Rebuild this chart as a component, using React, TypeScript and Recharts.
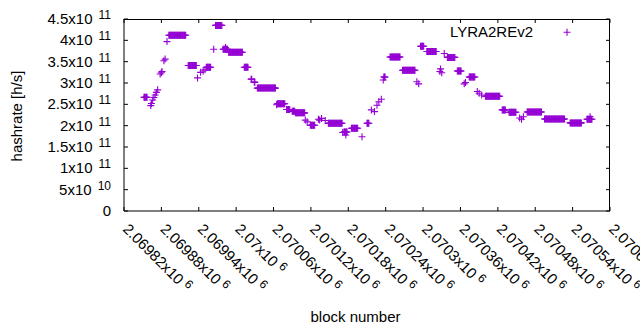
import React from "react";
import { ScatterChart, Scatter, XAxis, YAxis, Legend } from "recharts";

// runs of consecutive blocks that report the same hashrate
const runStart = [
  2069852, 2069892, 2069923, 2069952, 2069967, 2069979, 2069988, 2070013, 2070034, 2070066, 2070081,
  2070090, 2070095, 2070119, 2070148, 2070173, 2070185, 2070210, 2070237, 2070247, 2070267, 2070296,
  2070306, 2070339, 2070355, 2070374, 2070400, 2070427, 2070438, 2070467, 2070495, 2070536, 2070563,
];
const runEnd = [
  2069857, 2069919, 2069936, 2069959, 2069977, 2069986, 2070010, 2070019, 2070063, 2070078, 2070086,
  2070094, 2070110, 2070126, 2070170, 2070178, 2070195, 2070213, 2070239, 2070263, 2070287, 2070301,
  2070321, 2070351, 2070361, 2070383, 2070423, 2070432, 2070449, 2070490, 2070527, 2070554, 2070571,
];
const runRate = [
  2.665e11, 4.12e11, 3.41e11, 3.37e11, 4.35e11, 3.79e11, 3.72e11, 3.37e11, 2.88e11, 2.515e11, 2.38e11,
  2.34e11, 2.3e11, 2.01e11, 2.055e11, 1.85e11, 1.94e11, 2.055e11, 3.14e11, 3.61e11, 3.3e11, 3.86e11,
  3.74e11, 3.6e11, 3.28e11, 3.14e11, 2.69e11, 2.37e11, 2.315e11, 2.32e11, 2.155e11, 2.065e11, 2.15e11,
];

// single blocks between the runs
const pointBlock = [
  2069863, 2069864, 2069866, 2069868, 2069870, 2069872, 2069874, 2069878, 2069880, 2069881, 2069884,
  2069886, 2069889, 2069938, 2069943, 2069947, 2069950, 2069964, 2069983, 2070024, 2070025, 2070029,
  2070030, 2070065, 2070111, 2070114, 2070132, 2070134, 2070137, 2070143, 2070171, 2070176, 2070202,
  2070217, 2070222, 2070226, 2070229, 2070233, 2070236, 2070290, 2070293, 2070327, 2070328, 2070330,
  2070334, 2070366, 2070368, 2070387, 2070390, 2070394, 2070455, 2070458, 2070461, 2070568,
];
const pointRate = [
  2.47e11, 2.52e11, 2.6e11, 2.66e11, 2.72e11, 2.78e11, 2.84e11, 3.21e11, 3.24e11, 3.27e11, 3.52e11,
  3.56e11, 3.97e11, 3.12e11, 3.25e11, 3.28e11, 3.31e11, 3.79e11, 3.83e11, 3.09e11, 3.09e11, 3.03e11,
  3.01e11, 2.49e11, 2.13e11, 2.09e11, 2.15e11, 2.13e11, 2.17e11, 2.12e11, 1.84e11, 1.78e11, 1.74e11,
  2.37e11, 2.33e11, 2.48e11, 2.56e11, 2.62e11, 3.07e11, 3.03e11, 2.98e11, 3.27e11, 3.33e11, 3.24e11,
  3.69e11, 2.98e11, 3.01e11, 2.8e11, 2.76e11, 2.72e11, 2.18e11, 2.15e11, 2.21e11, 2.21e11,
];

const xTicks = [
  2069820, 2069880, 2069940, 2070000, 2070060, 2070120, 2070180, 2070240, 2070300, 2070360, 2070420,
  2070480, 2070540, 2070600,
];
const yTicks = [0, 5e10, 1e11, 1.5e11, 2e11, 2.5e11, 3e11, 3.5e11, 4e11, 4.5e11];

const xDomain = [2069820, 2070600];
const yDomain = [0, 4.5e11];

const COLOR = "#9400d3";
const FONT = "'Liberation Sans', Arial, sans-serif";

const CHART_W = 640;
const CHART_H = 330;
const Y_AXIS_W = 124;
const X_AXIS_H = 119;
const MARGIN = { top: 19, right: 30, bottom: 0, left: 0 };
const PLOT_TOP = MARGIN.top;
const PLOT_RIGHT = CHART_W - MARGIN.right;

// build the table the chart needs
const data: { block: number; hashrate: number }[] = [];
runStart.forEach((s, i) => {
  for (let b = s; b <= runEnd[i]; b++) data.push({ block: b, hashrate: runRate[i] });
});
pointBlock.forEach((b, i) => data.push({ block: b, hashrate: pointRate[i] }));
data.sort((a, b) => a.block - b.block);

// gnuplot style "m x10^e"
const sci = (v: number): [string, string] => {
  if (v === 0) return ["0", ""];
  const e = Math.floor(Math.log10(v));
  const m = parseFloat((v / Math.pow(10, e)).toPrecision(8));
  return [`${m}x10`, `${e}`];
};

const Cross = ({ cx, cy }: any) => {
  if (cx == null || cy == null) return null;
  return (
    <path
      d={`M${cx - 3.5},${cy}h7M${cx},${cy - 3.5}v7`}
      stroke={COLOR}
      strokeWidth={1.1}
      fill="none"
    />
  );
};

// bottom tick: inward mark, mirrored mark on the top border, rotated label
const XTickBottom = ({ x, y, payload }: any) => {
  const [m, e] = sci(payload.value);
  return (
    <g>
      <path d={`M${x},${y}V${y - 4}M${x},${PLOT_TOP}V${PLOT_TOP + 4}`} stroke="#000" strokeWidth={1} fill="none" />
      <text
        transform={`translate(${x - 2},${y + 19}) rotate(45)`}
        fontSize={15}
        fontFamily={FONT}
        fill="#000"
      >
        {m}
        <tspan dx={4} dy={-5} fontSize={12}>
          {e}
        </tspan>
      </text>
    </g>
  );
};

// left tick: inward mark, mirrored mark on the right border, label
const YTickLeft = ({ x, y, payload }: any) => {
  const [m, e] = sci(payload.value);
  return (
    <g>
      <path d={`M${x},${y}H${x + 4}M${PLOT_RIGHT},${y}H${PLOT_RIGHT - 4}`} stroke="#000" strokeWidth={1} fill="none" />
      <text x={x - 13} y={y + 5} textAnchor="end" fontSize={15} fontFamily={FONT} fill="#000">
        {m}
        {e && (
          <tspan dx={6} dy={-5} fontSize={12}>
            {e}
          </tspan>
        )}
      </text>
    </g>
  );
};

const renderLegend = () => (
  <svg width={160} height={22}>
    <text x={113} y={17.3} textAnchor="end" fontSize={15} fontFamily={FONT} fill="#000">
      LYRA2REv2
    </text>
    <Cross cx={147} cy={12.3} />
  </svg>
);

export default function App() {
  return (
    <div style={{ position: "absolute", left: 0, top: 0, width: CHART_W, height: CHART_H, background: "#fff" }}>
      <ScatterChart width={CHART_W} height={CHART_H} margin={MARGIN}>
        <XAxis
          type="number"
          dataKey="block"
          domain={xDomain}
          ticks={xTicks}
          allowDataOverflow
          height={X_AXIS_H}
          tickSize={0}
          tickMargin={0}
          tickLine={false}
          axisLine={{ stroke: "#000" }}
          tick={<XTickBottom />}
          interval={0}
        />
        <YAxis
          type="number"
          dataKey="hashrate"
          domain={yDomain}
          ticks={yTicks}
          allowDataOverflow
          width={Y_AXIS_W}
          tickSize={0}
          tickMargin={0}
          tickLine={false}
          axisLine={{ stroke: "#000" }}
          tick={<YTickLeft />}
          interval={0}
        />
        <Legend
          layout="horizontal"
          verticalAlign="middle"
          align="center"
          content={renderLegend}
          wrapperStyle={{ top: 20, left: 420, width: 160, height: 22 }}
        />
        <Scatter name="LYRA2REv2" data={data} fill={COLOR} shape={<Cross />} isAnimationActive={false} />
      </ScatterChart>
      {/* top and right frame lines of the plot box */}
      <div
        style={{
          position: "absolute",
          left: MARGIN.left + Y_AXIS_W,
          top: PLOT_TOP - 0.5,
          width: PLOT_RIGHT - (MARGIN.left + Y_AXIS_W),
          height: CHART_H - X_AXIS_H - PLOT_TOP,
          borderTop: "1px solid #000",
          borderRight: "1px solid #000",
          boxSizing: "border-box",
          pointerEvents: "none",
        }}
      />
      <div
        style={{
          position: "absolute",
          left: 16,
          top: 116,
          transform: "translate(-50%, -50%) rotate(-90deg)",
          fontFamily: FONT,
          fontSize: 15,
          whiteSpace: "nowrap",
        }}
      >
        hashrate [h/s]
      </div>
      <div
        style={{
          position: "absolute",
          left: 355.5,
          top: 316,
          transform: "translate(-50%, -50%)",
          fontFamily: FONT,
          fontSize: 15,
          whiteSpace: "nowrap",
        }}
      >
        block number
      </div>
    </div>
  );
}
